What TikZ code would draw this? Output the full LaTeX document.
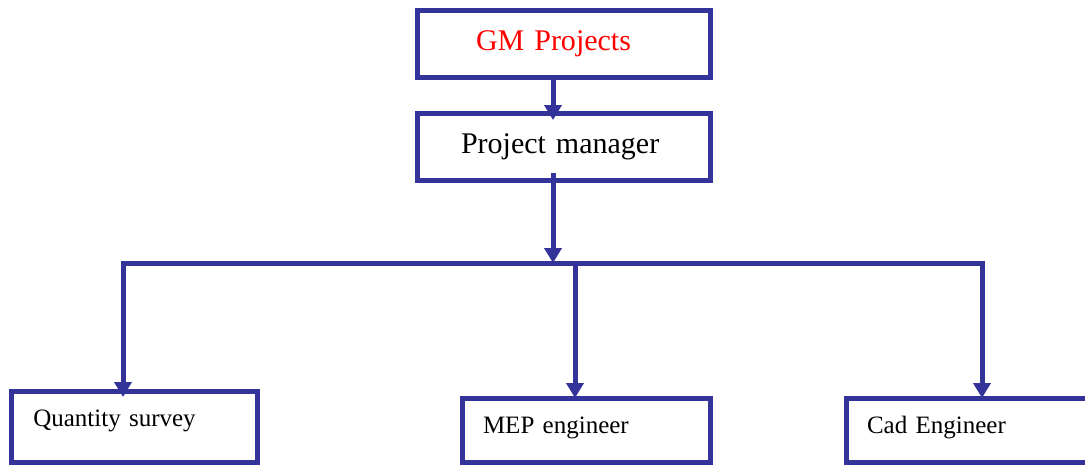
\documentclass[tikz,border=0pt]{standalone}
\usepackage{fontspec}
\setmainfont{Liberation Serif}
\usepackage{tikz}
\usetikzlibrary{arrows.meta}
\usepackage{xcolor}

\begin{document}
\begin{tikzpicture}[x=0.5pt, y=-0.5pt, inner sep=0pt, outer sep=0pt]

    % style
    \definecolor{myblue}{RGB}{51, 51, 153}
    \definecolor{myred}{RGB}{255, 0, 0}
    \tikzset{orgbox/.style={rectangle, draw=myblue, line width=2.5pt, fill=white, align=left}};
    \tikzset{topbox/.style={orgbox, minimum width=146.5pt, minimum height=33.5pt, text height=10.5pt, text depth=4pt, font=\fontsize{15}{18}\selectfont}};
    \tikzset{staffbox/.style={orgbox, minimum width=124pt, minimum height=32pt, text height=8.5pt, text depth=5.5pt, text width=103pt, font=\fontsize{12.5}{15}\selectfont}};
    \tikzset{wire/.style={draw=myblue, line width=2.5pt}};
    \tikzset{flow/.style={wire, -{Triangle[width=8.5pt, length=7.5pt]}}};

    % page size
    \useasboundingbox (0,0) rectangle (1085,466);

    % reference coordinates
    \coordinate (Spine) at (553,263);
    \coordinate (QSDrop) at (123,263);
    \coordinate (MEPDrop) at (575,263);
    \coordinate (CadDrop) at (982,263);

    % top boxes
    \node [topbox, text width=87.5pt, text=myred] (GM) at (563.5,43.5) {GM Projects};
    \node [topbox, text width=103pt] (PM) at (564,146.5) {Project manager};

    % staff boxes
    \node [staffbox, minimum width=123.25pt, minimum height=35.5pt, text height=7pt, text depth=7pt, text width=101pt] (QS) at (134.25,426.5) {Quantity survey};
    \node [staffbox] (MEP) at (586,430) {MEP engineer};
    \node [staffbox] (Cad) at (970,430) {Cad Engineer};

    % arrows down the chain
    \draw [flow] (GM.south -| Spine) -- ([yshift=-3.5pt]PM.north -| Spine);
    \draw [flow] ([yshift=3.5pt]PM.south -| Spine) -- (Spine);

    % branches to the staff
    \draw [flow] (MEPDrop) -- (QSDrop) -- ([yshift=-3pt]QS.north -| QSDrop);
    \draw [flow] (MEPDrop) -- (CadDrop) -- (Cad.north -| CadDrop);
    \draw [flow] (MEPDrop) -- (MEP.north -| MEPDrop);

\end{tikzpicture}
\end{document}
